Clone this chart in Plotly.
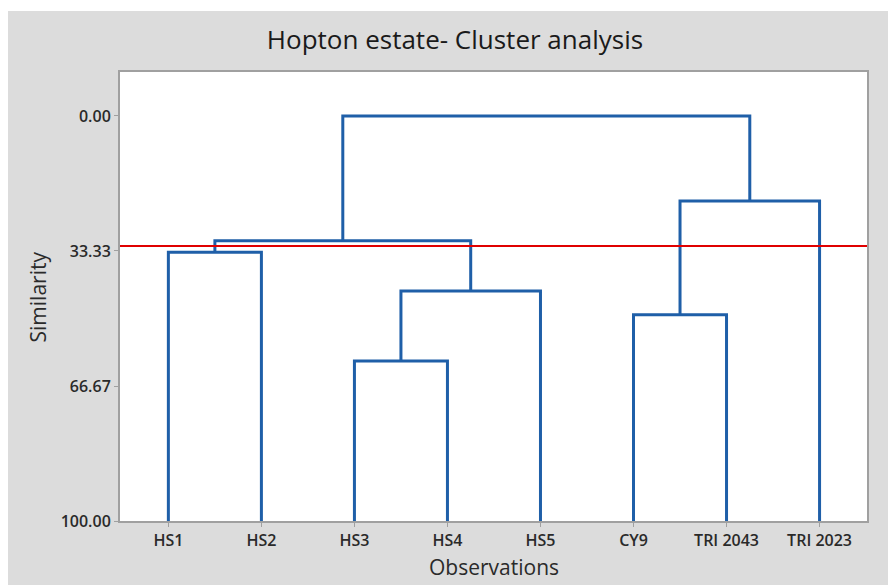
import plotly.graph_objects as go

# ---- data ----
observations = ["HS1", "HS2", "HS3", "HS4", "HS5", "CY9", "TRI 2043", "TRI 2023"]
# merges: (left node, right node, similarity level); nodes 0..7 are observations,
# node 8+k is the cluster formed by merge k
merge_left = [2, 5, 4, 0, 11, 9, 12]
merge_right = [3, 6, 8, 1, 10, 7, 13]
merge_similarity = [60.5, 49.1, 43.2, 33.65, 30.8, 21.0, 0.0]
cut_level = 32.1
y_tickvals = [0.0, 33.33, 66.67, 100.0]
y_ticktext = ["0.00", "33.33", "66.67", "100.00"]

# ---- build dendrogram ----
n = len(observations)
pos = {i: i + 1 for i in range(n)}
height = {i: 100.0 for i in range(n)}
xs, ys = [], []
for k, (a, b, s) in enumerate(zip(merge_left, merge_right, merge_similarity)):
    xa, xb = pos[a], pos[b]
    xs += [xa, xa, xb, xb, None]
    ys += [height[a], s, s, height[b], None]
    pos[n + k] = (xa + xb) / 2
    height[n + k] = s

FONT = "Open Sans"
W, H = 888, 577
L, T, R, B = 112, 64, 29.3, 64
PW, PH = W - L - R, H - T - B

fig = go.Figure()
fig.add_trace(go.Scatter(x=xs, y=ys, mode="lines",
                         line=dict(color="#1f5fa8", width=3),
                         hoverinfo="skip", showlegend=False))

tickfont = dict(family=FONT, size=16, color="#2a2a2a", weight=600)
fig.update_layout(
    width=W, height=H,
    margin=dict(l=L, r=R, t=T, b=B),
    paper_bgcolor="#dcdcdc",
    plot_bgcolor="white",
    title=dict(text="Hopton estate- Cluster analysis", x=447 / W, xanchor="center",
               xref="container", y=1 - 32 / H, yanchor="middle",
               font=dict(family=FONT, size=26, color="#1a1a1a", weight=500)),
    xaxis=dict(range=[0.48, 8.51], tickvals=list(range(1, n + 1)), ticktext=observations,
               showgrid=False, zeroline=False, showline=True, mirror=True,
               linecolor="#a0a0a0", linewidth=2, ticks="outside", ticklen=4,
               tickcolor="#a0a0a0", tickfont=tickfont),
    yaxis=dict(range=[100, -10.86], tickvals=y_tickvals, ticktext=y_ticktext,
               showgrid=False, zeroline=False, showline=True, mirror=True,
               linecolor="#a0a0a0", linewidth=2, ticks="outside", ticklen=4,
               tickcolor="#a0a0a0", tickfont=tickfont),
    annotations=[
        dict(text="Similarity", xref="paper", yref="paper", x=(30 - L) / PW, y=0.5,
             textangle=-90, showarrow=False, xanchor="center", yanchor="middle",
             font=dict(family=FONT, size=21, color="#2a2a2a", weight=500)),
        dict(text="Observations", xref="paper", yref="paper", x=0.5, y=-(559 - 513) / PH,
             showarrow=False, xanchor="center", yanchor="middle",
             font=dict(family=FONT, size=21, color="#2a2a2a", weight=500)),
    ],
)
fig.add_shape(type="rect", xref="paper", yref="paper", x0=-0.2, x1=1.1,
              y0=1 + (T - 3) / PH, y1=1 + (T + 5) / PH, fillcolor="white",
              line_width=0, layer="below")
fig.add_hline(y=cut_level, line=dict(color="#e00000", width=2))
fig.write_html("out.html")
